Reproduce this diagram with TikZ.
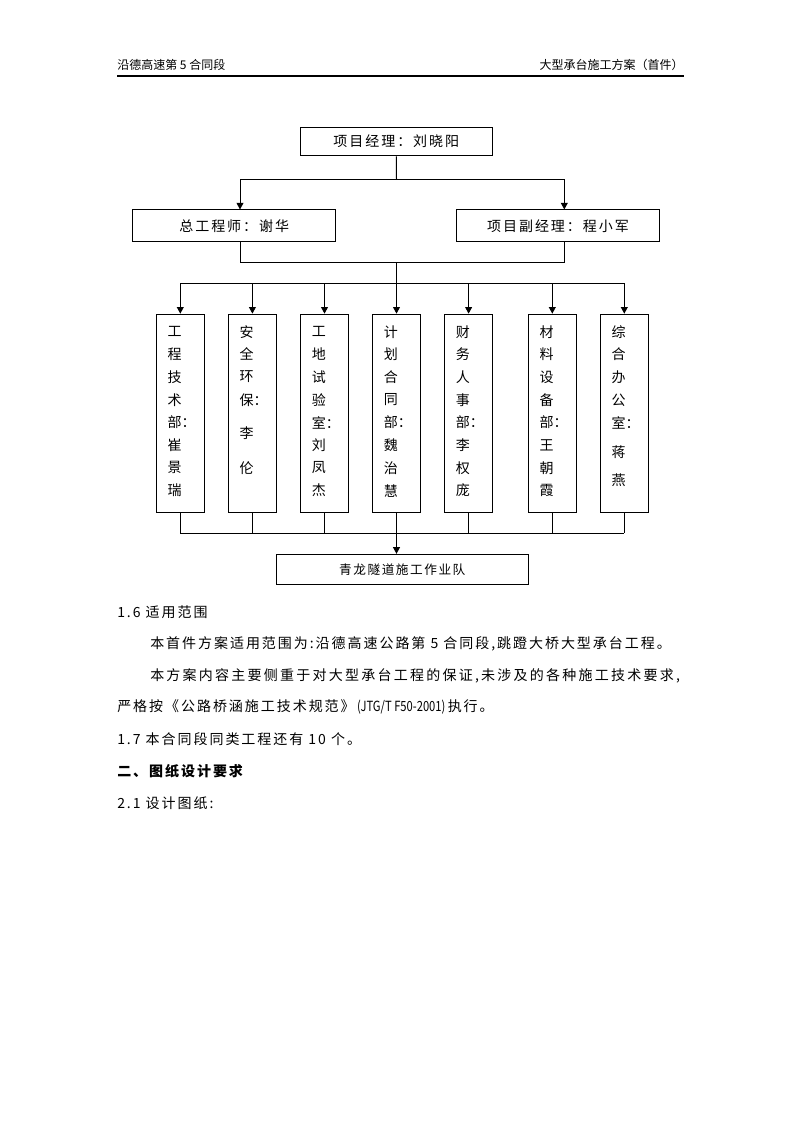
\documentclass[tikz,border=0pt]{standalone}
\usepackage{fontspec}
\usepackage{graphicx}
\setmainfont{Noto Sans CJK SC}
\newfontfamily\bodyf[LetterSpace=14]{Noto Sans CJK SC}
\newfontfamily\bodyw[LetterSpace=16]{Noto Sans CJK SC}
\newfontfamily\smallf[LetterSpace=12]{Noto Sans CJK SC}
\newfontfamily\plainf{Noto Sans CJK SC}
\usetikzlibrary{arrows.meta,calc}
\newcommand\vcolumn[3]{\foreach \c/\yy [count=\k] in {#3} {\node[vch] (#1-\k) at (#2-13,\yy) {\c};}}
\begin{document}
\begin{tikzpicture}[x=0.75pt,y=-0.75pt,
  box/.style={draw,line width=0.75pt,inner sep=0pt},
  vbox/.style={box,minimum width=36pt,minimum height=148.7pt},
  arr/.style={line width=0.75pt,-{Triangle[width=5.2pt,length=5pt]}},
  ln/.style={line width=0.75pt},
  boxtxt/.style={font=\bodyf\fontsize{10.5pt}{12pt}\selectfont},
  vch/.style={anchor=west,inner sep=0pt,font=\fontsize{10.5pt}{12pt}\selectfont},
  txt/.style={anchor=west,inner sep=0pt,font=\bodyf\fontsize{10.5pt}{12pt}\selectfont},
  hdr/.style={inner sep=0pt,font=\fontsize{9pt}{11pt}\selectfont}]
\useasboundingbox[fill=white] (0,0) rectangle (794,1123);
% header
\node[hdr,anchor=west] (hl) at (117,65) {沿德高速第 5 合同段};
\node[hdr,anchor=east] (hr) at (684,65) {大型承台施工方案（首件）};
\coordinate (rl) at (117,76);
\coordinate (rr) at (684,76);
\draw[line width=0.9pt] (rl) -- (rr);
% boxes
\node[box,minimum width=144pt,minimum height=21.5pt,boxtxt] (top) at (396.3,141.65) {项目经理：刘晓阳};
\node[box,minimum width=152.6pt,minimum height=23.8pt,boxtxt] (chief) at (234.25,225.85) {总工程师：谢华};
\node[box,minimum width=152.6pt,minimum height=23.8pt,boxtxt] (dep) at (558,225.85) {项目副经理：程小军};
\foreach \n/\cx in {d1/180.3,d2/252.4,d3/324.5,d4/396.5,d5/468.6,d6/552.3,d7/624.3}
  \node[vbox] (\n) at (\cx,413.3) {};
\node[box,minimum width=189pt,minimum height=23pt,font=\smallf\fontsize{9.5pt}{11pt}\selectfont] (team) at (402.3,569.65) {青龙隧道施工作业队};
% vertical texts
\vcolumn{d1}{180.3}{工/331.7,程/354.4,技/377.1,术/399.8,部：/422.5,崔/445.2,景/467.9,瑞/490.6}
\vcolumn{d2}{252.4}{安/331.7,全/354.4,环/377.1,保：/399.8,李/433.3,伦/468.3}
\vcolumn{d3}{324.5}{工/331.7,地/354.4,试/377.1,验/399.8,室：/422.5,刘/445.2,凤/467.9,杰/490.6}
\vcolumn{d4}{396.5}{计/331.7,划/354.4,合/377.1,同/399.8,部：/422.5,魏/445.2,治/467.9,慧/490.6}
\vcolumn{d5}{468.6}{财/331.7,务/354.4,人/377.1,事/399.8,部：/422.5,李/445.2,权/467.9,庞/490.6}
\vcolumn{d6}{552.3}{材/331.7,料/354.4,设/377.1,备/399.8,部：/422.5,王/445.2,朝/467.9,霞/490.6}
\vcolumn{d7}{624.3}{综/331.7,合/354.4,办/377.1,公/399.8,室：/422.5,蒋/451.7,燕/480}
% connectors
\coordinate (j1) at (396.5,179.3);
\coordinate (a2) at (240,179.3);
\coordinate (a3) at (564.3,179.3);
\draw[ln] (top.south) -- (j1);
\draw[arr] (j1) -- (a2) -- (a2 |- chief.north);
\draw[arr] (j1) -- (a3) -- (a3 |- dep.north);
\coordinate (b2) at (240,262.3);
\coordinate (b3) at (564.3,262.3);
\coordinate (j2) at (396.5,262.3);
\coordinate (j3) at (396.5,283.3);
\draw[ln] (a2 |- chief.south) -- (b2) -- (b3) -- (a3 |- dep.south);
\draw[ln] (j2) -- (j3);
\draw[ln] (d1.north |- j3) -- (d7.north |- j3);
\foreach \n in {d1,d2,d3,d4,d5,d6,d7}
  \draw[arr] (\n.north |- j3) -- (\n.north);
\coordinate (j4) at (396.5,533.3);
\foreach \n in {d1,d2,d3,d4,d5,d6,d7}
  \draw[ln] (\n.south) -- (\n.south |- j4);
\draw[ln] (d1.south |- j4) -- (d7.south |- j4);
\draw[arr] (j4) -- (j4 |- team.north);
% body text
\node[txt] (l1) at (117,612) {1.6 适用范围};
\node[txt] (l2) at (150,643.8) {本首件方案适用范围为:沿德高速公路第 5 合同段,跳蹬大桥大型承台工程。};
\node[txt,font=\bodyw\fontsize{10.5pt}{12pt}\selectfont] (l3) at (150,675.6) {本方案内容主要侧重于对大型承台工程的保证,未涉及的各种施工技术要求,};
\node[txt] (l4) at (117,707.4) {严格按《公路桥涵施工技术规范》\,\scalebox{0.8}[1]{\plainf (JTG/T F50-2001)}\,执行。};
\node[txt] (l5) at (117,739.2) {1.7 本合同段同类工程还有 10 个。};
\node[txt,font=\bodyf\bfseries\fontsize{10.5pt}{12pt}\selectfont] (l6) at (117,771) {二、图纸设计要求};
\node[txt] (l7) at (117,802.8) {2.1 设计图纸:};
\end{tikzpicture}
\end{document}
